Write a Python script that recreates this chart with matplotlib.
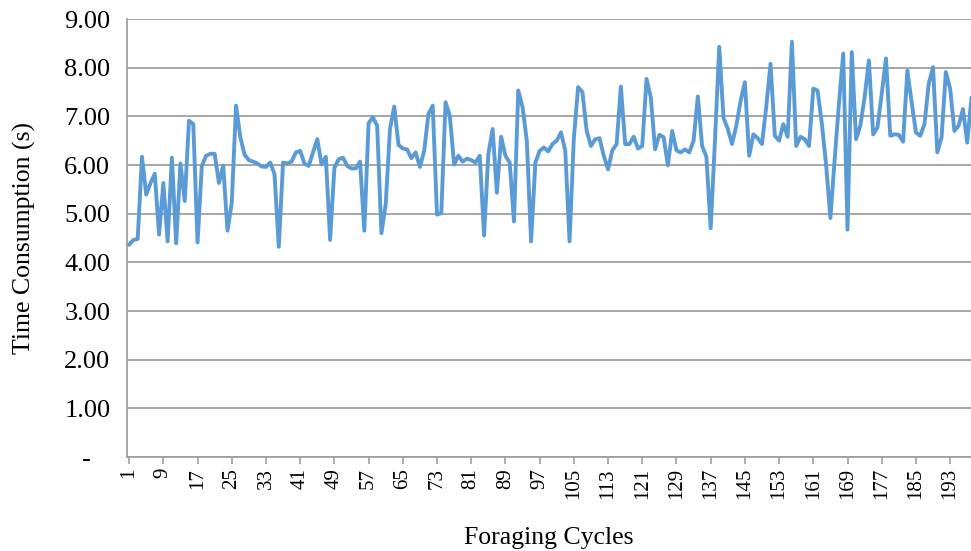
import matplotlib
matplotlib.use("Agg")
import matplotlib.pyplot as plt
import numpy as np

times = [
    4.36, 4.46, 4.48, 6.17, 5.39, 5.63, 5.82, 4.57, 5.63, 4.43,
    6.15, 4.39, 6.03, 5.26, 6.91, 6.84, 4.41, 5.98, 6.19, 6.23,
    6.23, 5.63, 5.99, 4.65, 5.22, 7.22, 6.57, 6.21, 6.10, 6.07,
    6.03, 5.97, 5.96, 6.05, 5.81, 4.32, 6.05, 6.03, 6.07, 6.26,
    6.29, 6.03, 5.98, 6.26, 6.53, 6.01, 6.17, 4.46, 5.94, 6.12,
    6.15, 5.98, 5.93, 5.93, 6.07, 4.65, 6.86, 6.98, 6.81, 4.60,
    5.19, 6.74, 7.20, 6.41, 6.34, 6.32, 6.14, 6.26, 5.96, 6.29,
    7.05, 7.22, 4.98, 5.01, 7.29, 7.01, 6.01, 6.19, 6.07, 6.13,
    6.10, 6.05, 6.19, 4.55, 6.22, 6.74, 5.43, 6.58, 6.19, 6.05,
    4.84, 7.53, 7.19, 6.50, 4.43, 6.05, 6.29, 6.36, 6.28, 6.43,
    6.50, 6.67, 6.29, 4.43, 6.55, 7.60, 7.50, 6.70, 6.39, 6.53,
    6.55, 6.19, 5.91, 6.30, 6.43, 7.61, 6.43, 6.43, 6.58, 6.34,
    6.39, 7.77, 7.39, 6.32, 6.62, 6.57, 5.99, 6.70, 6.30, 6.26,
    6.32, 6.26, 6.50, 7.41, 6.39, 6.17, 4.70, 6.50, 8.43, 6.97,
    6.74, 6.43, 6.81, 7.32, 7.70, 6.19, 6.63, 6.55, 6.43, 7.20,
    8.08, 6.60, 6.50, 6.84, 6.58, 8.53, 6.39, 6.58, 6.53, 6.39,
    7.57, 7.53, 6.85, 6.00, 4.91, 6.12, 7.26, 8.29, 4.67, 8.32,
    6.53, 6.81, 7.39, 8.15, 6.63, 6.77, 7.46, 8.19, 6.60, 6.63,
    6.62, 6.48, 7.94, 7.29, 6.67, 6.60, 6.84, 7.67, 8.01, 6.26,
    6.57, 7.91, 7.57, 6.70, 6.81, 7.15, 6.46, 7.39,
]
cycles = list(range(1, len(times) + 1))

x_ticks = list(range(1, 194, 8))
y_ticks = [0, 1, 2, 3, 4, 5, 6, 7, 8, 9]
y_labels = ["-   ", "1.00", "2.00", "3.00", "4.00", "5.00", "6.00", "7.00", "8.00", "9.00"]

plt.rcParams["font.family"] = ["Liberation Serif", "DejaVu Serif"]

W, H = 971, 551
fig = plt.figure(figsize=(W / 100, H / 100), dpi=100)
left_px, right_px, top_px, bottom_px = 127, 971, 19, 457
ax = fig.add_axes([left_px / W, (H - bottom_px) / H,
                   (right_px - left_px) / W, (bottom_px - top_px) / H])

ax.plot(cycles, times, color="#5B9BD5", lw=2.8, solid_joinstyle="round",
        solid_capstyle="round", zorder=3, clip_on=True)

ax.set_ylim(0, 9)
ax.set_xlim(0.5, 0.5 + (right_px - left_px) / 4.276)
ax.set_yticks(y_ticks)
ax.set_yticklabels(y_labels, fontsize=19)
ax.set_xticks(x_ticks)
ax.set_xticklabels([str(t) for t in x_ticks], rotation=90, fontsize=15)

ax.grid(axis="y", color="#A0A0A0", lw=1.3, zorder=0)
ax.set_axisbelow(True)
for s in ["top", "right"]:
    ax.spines[s].set_visible(False)
ax.spines["left"].set_color("#A0A0A0")
ax.spines["left"].set_linewidth(1.3)
ax.spines["bottom"].set_color("#A0A0A0")
ax.spines["bottom"].set_linewidth(1.3)
ax.tick_params(axis="y", length=0, pad=12)
ax.tick_params(axis="x", length=5, color="#A0A0A0", width=1.2, pad=3)

ax.set_xlabel("Foraging Cycles", fontsize=18.5, labelpad=20)
ax.set_ylabel("Time Consumption (s)", fontsize=18.5, labelpad=20)

fig.savefig("out.png", dpi=100)
